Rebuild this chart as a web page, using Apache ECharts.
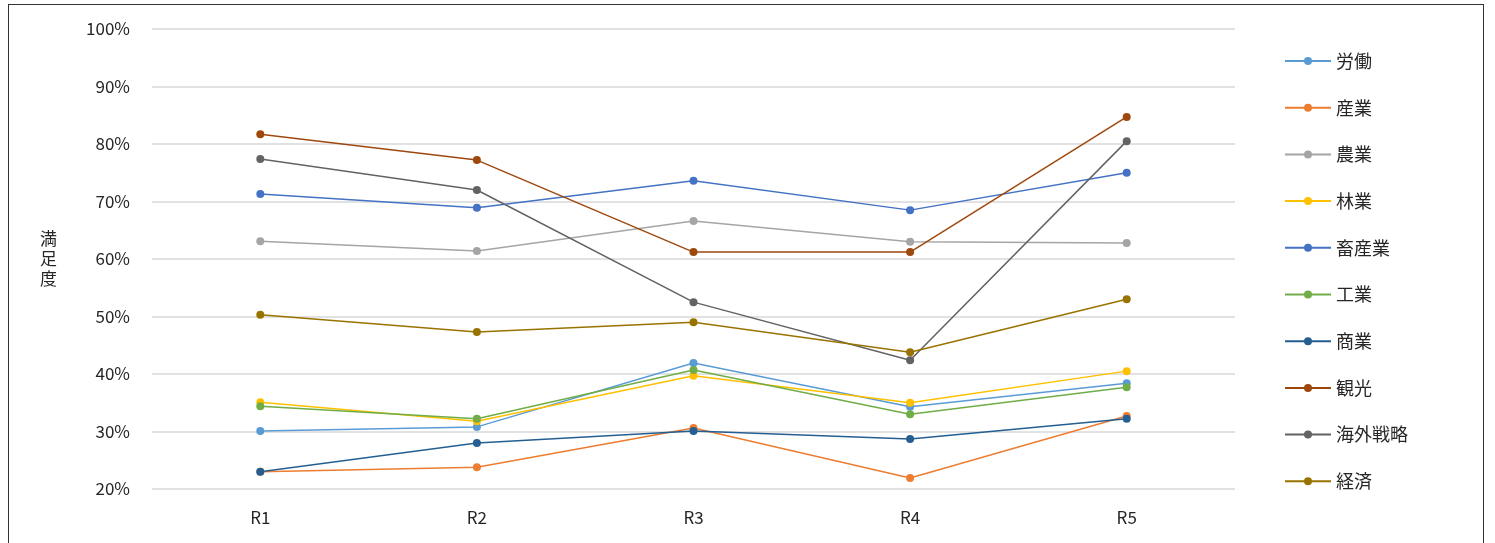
<!DOCTYPE html>
<html>
<head>
<meta charset="utf-8">
<script src="https://cdn.jsdelivr.net/npm/echarts@6/dist/echarts.min.js"></script>
<style>
html,body{margin:0;padding:0;background:#fff;}
#frame{position:absolute;left:8px;top:4px;width:1476px;height:560px;border:1px solid #333;box-sizing:border-box;}
#main{position:absolute;left:0;top:0;width:1495px;height:543px;}
</style>
</head>
<body>
<div id="frame"></div>
<div id="main"></div>
<script>
var rounds = ['R1','R2','R3','R4','R5'];
var names = ['労働','産業','農業','林業','畜産業','工業','商業','観光','海外戦略','経済'];
var colors = ['#5B9BD5','#ED7D31','#A5A5A5','#FFC000','#4472C4','#70AD47','#255E91','#9E480E','#636363','#997300'];
var rodo = [30.1,30.8,41.9,34.3,38.4];
var sangyo = [23.0,23.8,30.6,21.9,32.7];
var nogyo = [63.1,61.4,66.6,63.0,62.8];
var ringyo = [35.1,31.8,39.7,35.0,40.5];
var chikusan = [71.3,68.9,73.6,68.5,75.0];
var kogyo = [34.4,32.2,40.7,33.0,37.7];
var shogyo = [23.0,28.0,30.1,28.7,32.2];
var kanko = [81.7,77.2,61.2,61.2,84.7];
var kaigai = [77.4,72.0,52.5,42.4,80.5];
var keizai = [50.3,47.3,49.0,43.8,53.0];
var values = [rodo,sangyo,nogyo,ringyo,chikusan,kogyo,shogyo,kanko,kaigai,keizai];

var font = '"Noto Sans CJK JP", "Noto Sans", sans-serif';
var chart = echarts.init(document.getElementById('main'));
var series = [];
for (var i = 0; i < names.length; i++) {
	series.push({
		name: names[i],
		type: 'line',
		data: values[i],
		symbol: 'circle',
		symbolSize: 8,
		itemStyle: {color: colors[i]},
		lineStyle: {width: 1.5, color: colors[i]}
	});
}
chart.setOption({
	animation: false,
	color: colors,
	textStyle: {fontFamily: font},
	grid: {left: 152, right: 260, top: 29, bottom: 54},
	legend: {
		orient: 'vertical',
		left: 1279,
		top: 47,
		itemGap: 28.7,
		itemWidth: 46,
		itemHeight: 10,
		textStyle: {fontSize: 18, color: '#262626', fontFamily: font, lineHeight: 18},
		data: names
	},
	xAxis: {
		type: 'category',
		data: rounds,
		boundaryGap: true,
		axisLine: {show: false},
		axisTick: {show: false},
		axisLabel: {fontSize: 17, color: '#262626', margin: 20}
	},
	yAxis: {
		type: 'value',
		min: 20,
		max: 100,
		interval: 10,
		name: '満\n足\n度',
		nameLocation: 'middle',
		nameRotate: 0,
		nameGap: 95,
		nameTextStyle: {fontSize: 17, color: '#262626', lineHeight: 20},
		axisLine: {show: false},
		axisTick: {show: false},
		axisLabel: {fontSize: 17, color: '#262626', formatter: '{value}%', margin: 22},
		splitLine: {lineStyle: {color: '#D9D9D9', width: 1.5}}
	},
	series: series
});
</script>
</body>
</html>
